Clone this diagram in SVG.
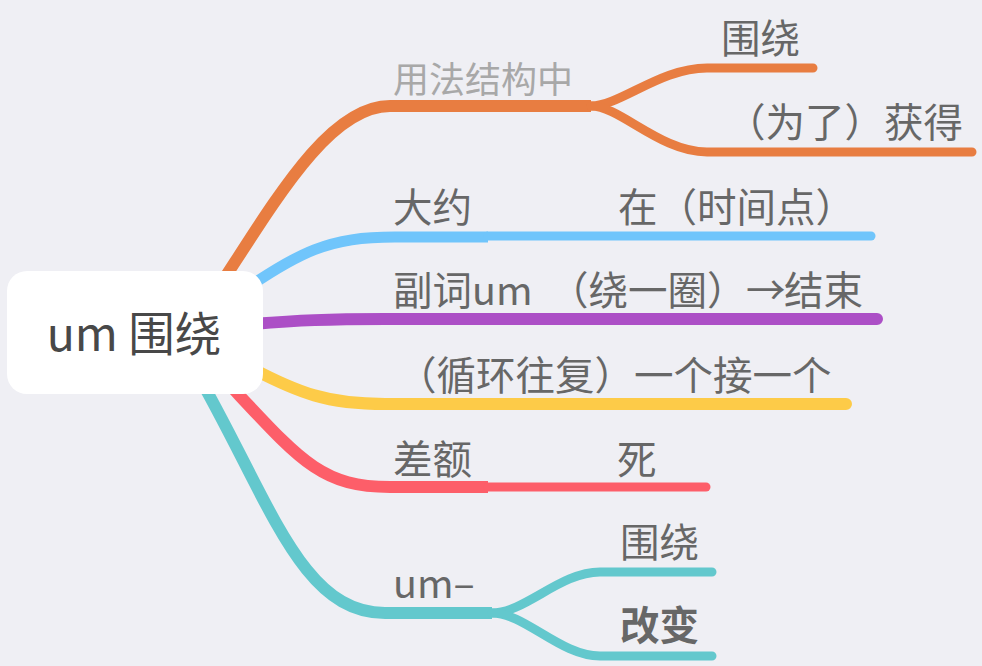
<svg xmlns="http://www.w3.org/2000/svg" width="982" height="666" viewBox="0 0 982 666">
<style>
.t{font-family:"Noto Sans CJK SC","Noto Sans",sans-serif;font-size:39.5px;fill:#676767}
.c{fill:none;stroke-linecap:round;stroke-linejoin:round}
</style>
<rect x="0" y="0" width="982" height="666" fill="#efeff4"/>
<g id="connectors" class="c">
<path d="M190,330 C260,230 320,106 390,106 L591,106" stroke="#e87d41" stroke-width="12" stroke-linecap="butt"/>
<path d="M591,106 C620,106 660,68 707,68 L813,68" stroke="#e87d41" stroke-width="9"/>
<path d="M591,106 C620,106 660,152 707,152 L972,152" stroke="#e87d41" stroke-width="9"/>
<path d="M230,300 C300,250 330,237 395,237 L488,237" stroke="#70c5fb" stroke-width="11" stroke-linecap="butt"/>
<path d="M488,236 L871,236" stroke="#70c5fb" stroke-width="9"/>
<path d="M240,325 C300,320 330,319 385,319 L877,319" stroke="#ac4fc6" stroke-width="12"/>
<path d="M240,362 C300,395 330,404 385,404 L846,404" stroke="#fdcb48" stroke-width="12"/>
<path d="M225,380 C300,460 320,487 390,487 L488,487" stroke="#fd5e69" stroke-width="12" stroke-linecap="butt"/>
<path d="M488,487 L706,487" stroke="#fd5e69" stroke-width="9"/>
<path d="M195,370 C270,500 300,613 385,613 L492,613" stroke="#63c8cd" stroke-width="12" stroke-linecap="butt"/>
<path d="M492,613 C525,613 560,572 600,572 L712,572" stroke="#63c8cd" stroke-width="9"/>
<path d="M492,613 C525,613 560,656 600,656 L712,656" stroke="#63c8cd" stroke-width="9"/>
</g>
<g id="root">
<rect x="7" y="271" width="256" height="123" rx="20" fill="#ffffff"/>
<text x="134" y="351" text-anchor="middle" class="t" style="font-size:46.5px;fill:#484848">um 围绕</text>
</g>
<g id="n1"><text x="393" y="93" class="t" style="font-size:36px;fill:#a8a8a8">用法结构中</text></g>
<g id="n1a"><text x="721" y="53" class="t">围绕</text></g>
<g id="n1b"><text x="726" y="137" class="t">（为了）获得</text></g>
<g id="n2"><text x="393" y="222" class="t">大约</text></g>
<g id="n2a"><text x="618" y="222" class="t">在（时间点）</text></g>
<g id="n3"><text x="393" y="305" class="t">副词um <tspan x="549">（绕一圈）</tspan><tspan x="746">→</tspan><tspan x="784">结束</tspan></text></g>
<g id="n4"><text x="397" y="390" class="t">（循环往复）一个接一个</text></g>
<g id="n5"><text x="393" y="474" class="t">差额</text></g>
<g id="n5a"><text x="617" y="474" class="t">死</text></g>
<g id="n6"><text x="393" y="598" class="t">um–</text></g>
<g id="n6a"><text x="620" y="557" class="t">围绕</text></g>
<g id="n6b"><text x="620" y="640" class="t" style="font-weight:bold">改变</text></g>
</svg>
